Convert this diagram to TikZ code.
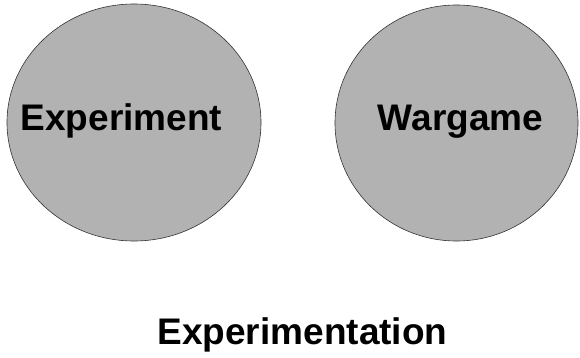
\documentclass[tikz,border=0pt]{standalone}
\usepackage{fontspec}
\setmainfont{Liberation Sans}

\tikzset{
  blob/.style={fill=black!30, draw=black!80, line width=0.6pt},
  bigtext/.style={anchor=base, inner sep=0pt, font=\fontsize{37}{44}\selectfont\bfseries}
}

\begin{document}
\begin{tikzpicture}[x=1pt, y=1pt]
      % Page frame
      \useasboundingbox (0, 0) rectangle (580, 357);

      % The two circles
      \filldraw[blob] (134, 234.5) ellipse (127 and 118.5);
      \filldraw[blob] (456.5, 234) ellipse (121.5 and 118);

      % Labels inside the circles
      \node[bigtext] (experiment) at (121.5, 227) {Experiment};
      \node[bigtext] (wargame) at (460.5, 227) {Wargame};

      % Title underneath
      \node[bigtext] (title) at (302.5, 13) {Experimentation};

  \end{tikzpicture}
\end{document}
